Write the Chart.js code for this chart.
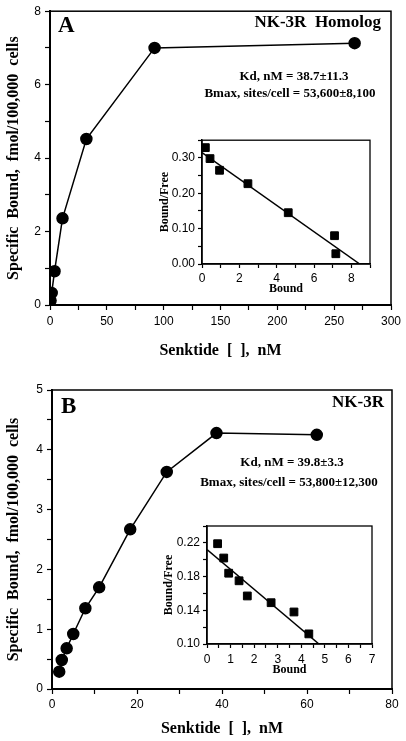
<!DOCTYPE html>
<html>
<head>
<meta charset="utf-8">
<script src="https://cdn.jsdelivr.net/npm/chart.js@4.4.0/dist/chart.umd.min.js"></script>
<style>
  html, body { margin: 0; padding: 0; background: #fff; }
  #wrap { position: relative; width: 406px; height: 741px; }
  canvas { position: absolute; }
</style>
</head>
<body>
<div id="wrap">
  <canvas id="mainA" width="406" height="370" style="left:0;top:0"></canvas>
  <canvas id="mainB" width="406" height="371" style="left:0;top:370px"></canvas>
  <canvas id="insetA" width="225" height="170" style="left:155px;top:130px"></canvas>
  <canvas id="insetB" width="225" height="170" style="left:160px;top:515px"></canvas>
</div>
<script>
// Panel A - NK-3R homolog, saturation binding
const senktideA = [0.5, 1.5, 4, 11, 32, 92, 268];
const boundA = [0.12, 0.33, 0.92, 2.36, 4.52, 7.0, 7.13];
// Panel A inset - Scatchard
const scatBoundA = [0.18, 0.43, 0.94, 2.46, 4.62, 7.1, 7.17];
const scatRatioA = [0.329, 0.298, 0.265, 0.227, 0.145, 0.080, 0.029];
const fitBoundA = [0, 8.45];
const fitRatioA = [0.315, 0];

// Panel B - NK-3R
const senktideB = [1.7, 2.3, 3.45, 5.0, 7.85, 11.1, 18.4, 27, 38.7, 62.3];
const boundB = [0.29, 0.485, 0.68, 0.92, 1.35, 1.70, 2.67, 3.63, 4.28, 4.25];
// Panel B inset - Scatchard
const scatBoundB = [0.45, 0.71, 0.92, 1.36, 1.71, 2.72, 3.69, 4.32];
const scatRatioB = [0.219, 0.202, 0.184, 0.175, 0.157, 0.149, 0.138, 0.112];
const fitBoundB = [0, 4.75];
const fitRatioB = [0.212, 0.10];

const SERIF = '"Liberation Serif", "Times New Roman", serif';
const SANS = '"Liberation Sans", Arial, sans-serif';

function pts(xs, ys) {
    return xs.map((x, i) => ({ x: x, y: ys[i] }));
}

// box around the plot area
const framePlugin = {
    id: 'frame',
    afterDatasetsDraw(chart, args, opts) {
        const ctx = chart.ctx, a = chart.chartArea;
        ctx.save();
        ctx.strokeStyle = '#000';
        ctx.lineWidth = opts.width || 1.5;
        ctx.strokeRect(a.left, a.top, a.right - a.left, a.bottom - a.top);
        ctx.restore();
    }
};

// free text on the canvas (panel letter, receptor, Kd / Bmax)
const notesPlugin = {
    id: 'notes',
    afterDraw(chart, args, opts) {
        const ctx = chart.ctx;
        (opts.items || []).forEach(n => {
            ctx.save();
            ctx.font = n.font;
            ctx.fillStyle = '#000';
            ctx.textAlign = n.align || 'left';
            ctx.textBaseline = 'middle';
            ctx.fillText(n.text, n.x, n.y);
            ctx.restore();
        });
    }
};

function scale(o) {
    return {
        type: 'linear',
        min: o.min,
        max: o.max,
        afterFit: s => {
            if (s.isHorizontal()) s.height = o.size; else s.width = o.size;
        },
        border: { display: true, color: '#000', width: o.border },
        grid: { drawOnChartArea: false, drawTicks: true, tickLength: o.tick, color: '#000', tickWidth: 1.2 },
        ticks: {
            stepSize: o.step, autoSkip: false, maxRotation: 0, padding: o.pad,
            color: '#000', font: { family: SANS, size: 12 },
            callback: o.label
        },
        title: {
            display: true, text: o.title, color: '#000',
            font: { family: SERIF, size: o.titleSize, weight: 'bold' },
            padding: o.titlePad
        }
    };
}

function mainChart(id, data, layoutPad, xs, ys, notes) {
    new Chart(document.getElementById(id), {
        type: 'scatter',
        data: {
            datasets: [{
                data: data,
                showLine: true,
                borderColor: '#000',
                borderWidth: 1.5,
                pointRadius: 5.5,
                pointBackgroundColor: '#000',
                pointBorderColor: '#000'
            }]
        },
        options: {
            responsive: false,
            animation: false,
            layout: { padding: layoutPad },
            scales: { x: xs, y: ys },
            plugins: {
                legend: { display: false },
                tooltip: { enabled: false },
                frame: { width: 1.5 },
                notes: { items: notes }
            }
        },
        plugins: [framePlugin, notesPlugin]
    });
}

function insetChart(id, points, fit, layoutPad, xs, ys) {
    new Chart(document.getElementById(id), {
        type: 'scatter',
        data: {
            datasets: [{
                data: points,
                pointStyle: 'rect',
                pointRadius: 5.5,
                pointBackgroundColor: '#000',
                pointBorderColor: '#000'
            }, {
                data: fit,
                showLine: true,
                borderColor: '#000',
                borderWidth: 1.5,
                pointRadius: 0
            }]
        },
        options: {
            responsive: false,
            animation: false,
            layout: { padding: layoutPad },
            scales: { x: xs, y: ys },
            plugins: {
                legend: { display: false },
                tooltip: { enabled: false },
                frame: { width: 1.3 }
            }
        },
        plugins: [framePlugin]
    });
}

const yTitle = 'Specific  Bound,  fmol/100,000  cells';
const xTitle = 'Senktide  [  ],  nM';

mainChart('mainA', pts(senktideA, boundA), { top: 7, right: 15, left: 0, bottom: 0 },
    scale({ min: 0, max: 300, step: 25, size: 65, border: 2, tick: 5, pad: 4,
        label: v => v % 50 === 0 ? String(v) : '',
        title: xTitle, titleSize: 16, titlePad: { bottom: 10 } }),
    scale({ min: 0, max: 8, step: 1, size: 50, border: 2, tick: 5, pad: 4,
        label: v => v % 2 === 0 ? String(v) : '',
        title: yTitle, titleSize: 16, titlePad: { top: 4 } }),
    [
        { text: 'A', x: 58, y: 26, font: 'bold 23px ' + SERIF },
        { text: 'NK-3R  Homolog', x: 381, y: 23, align: 'right', font: 'bold 17px ' + SERIF },
        { text: 'Kd, nM = 38.7\u00B111.3', x: 294, y: 77, align: 'center', font: 'bold 13px ' + SERIF },
        { text: 'Bmax, sites/cell = 53,600\u00B18,100', x: 290, y: 94, align: 'center', font: 'bold 13px ' + SERIF }
    ]);

mainChart('mainB', pts(senktideB, boundB), { top: 20, right: 14, left: 0, bottom: 0 },
    scale({ min: 0, max: 80, step: 10, size: 52, border: 2, tick: 5, pad: 3,
        label: v => v % 20 === 0 ? String(v) : '',
        title: xTitle, titleSize: 16, titlePad: { bottom: 3 } }),
    scale({ min: 0, max: 5, step: 0.5, size: 52, border: 2, tick: 5, pad: 4,
        label: v => Number.isInteger(v) ? String(v) : '',
        title: yTitle, titleSize: 16, titlePad: { top: 4 } }),
    [
        { text: 'B', x: 61, y: 37, font: 'bold 23px ' + SERIF },
        { text: 'NK-3R', x: 384, y: 33, align: 'right', font: 'bold 17px ' + SERIF },
        { text: 'Kd, nM = 39.8\u00B13.3', x: 292, y: 93, align: 'center', font: 'bold 13px ' + SERIF },
        { text: 'Bmax, sites/cell = 53,800\u00B112,300', x: 289, y: 113, align: 'center', font: 'bold 13px ' + SERIF }
    ]);

insetChart('insetA', pts(scatBoundA, scatRatioA), pts(fitBoundA, fitRatioA),
    { top: 10, right: 10, left: 0, bottom: 0 },
    scale({ min: 0, max: 9, step: 1, size: 36, border: 1.5, tick: 4, pad: 3,
        label: v => v % 2 === 0 ? String(v) : '',
        title: 'Bound', titleSize: 12, titlePad: { bottom: 4 } }),
    scale({ min: 0, max: 0.35, step: 0.05, size: 47, border: 1.5, tick: 4, pad: 3,
        label: v => Math.round(v * 100) % 10 === 0 ? v.toFixed(2) : '',
        title: 'Bound/Free', titleSize: 12, titlePad: { top: 3 } }));

insetChart('insetB', pts(scatBoundB, scatRatioB), pts(fitBoundB, fitRatioB),
    { top: 11, right: 13, left: 0, bottom: 0 },
    scale({ min: 0, max: 7, step: 0.5, size: 41, border: 1.5, tick: 4, pad: 4,
        label: v => Number.isInteger(v) ? String(v) : '',
        title: 'Bound', titleSize: 12, titlePad: { bottom: 8 } }),
    scale({ min: 0.10, max: 0.24, step: 0.02, size: 47, border: 1.5, tick: 4, pad: 3,
        label: v => [10, 14, 18, 22].includes(Math.round(v * 100)) ? v.toFixed(2) : '',
        title: 'Bound/Free', titleSize: 12, titlePad: { top: 2 } }));
</script>
</body>
</html>
